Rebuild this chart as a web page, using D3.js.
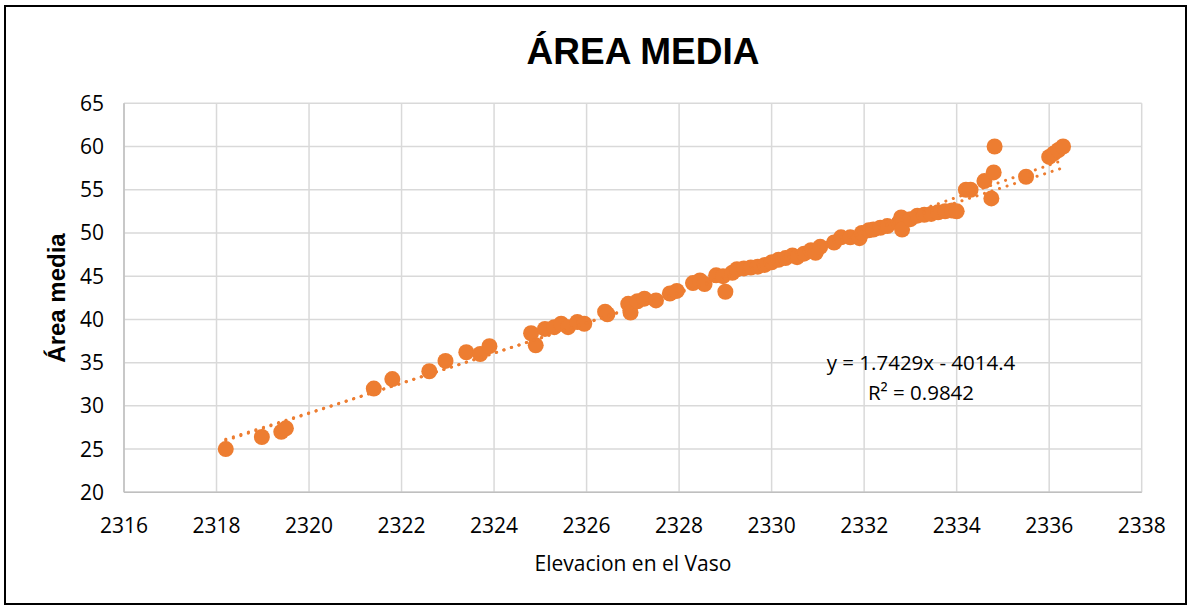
<!DOCTYPE html>
<meta charset="utf-8">
<head>
<style>
body { margin: 0; background: #fff; }
text { font-family: "Open Sans", "Liberation Sans", sans-serif; fill: #000; }
.grid line { stroke: #d9d9d9; stroke-width: 1.5px; }
.tick-label { font-size: 21px; }
</style>
<script src="https://d3js.org/d3.v7.min.js"></script>
</head>
<body>
<svg width="1190" height="607"></svg>
<script>

// elevation (x) and mean area (y)
var elevacion = [2318.2, 2318.98, 2319.4, 2319.5, 2321.4, 2321.8, 2322.6, 2322.95, 2323.4, 2323.7,
  2323.9, 2324.8, 2324.9, 2325.1, 2325.3, 2325.45, 2325.6, 2325.8, 2325.95, 2326.4,
  2326.45, 2326.9, 2326.95, 2327.1, 2327.25, 2327.5, 2327.8, 2327.95, 2328.3, 2328.45,
  2328.55, 2328.8, 2328.95, 2329.0, 2329.15, 2329.25, 2329.4, 2329.55, 2329.7, 2329.85,
  2330.0, 2330.15, 2330.3, 2330.45, 2330.55, 2330.7, 2330.85, 2330.95, 2331.05, 2331.35,
  2331.5, 2331.7, 2331.9, 2331.95, 2332.1, 2332.2, 2332.35, 2332.5, 2332.75, 2332.8,
  2332.82, 2333.0, 2333.15, 2333.3, 2333.45, 2333.6, 2333.75, 2333.9, 2334.0, 2334.2,
  2334.3, 2334.6, 2334.75, 2334.8, 2334.82, 2335.5, 2336.0, 2336.1, 2336.2, 2336.3];

var areaMedia = [25.0, 26.4, 27.0, 27.4, 32.0, 33.1, 34.0, 35.2, 36.2, 36.0,
  36.9, 38.4, 37.0, 38.9, 39.1, 39.5, 39.1, 39.7, 39.5, 40.9,
  40.6, 41.8, 40.8, 42.1, 42.4, 42.2, 43.0, 43.3, 44.2, 44.5,
  44.1, 45.1, 45.0, 43.2, 45.4, 45.8, 45.9, 46.0, 46.1, 46.3,
  46.6, 46.9, 47.1, 47.4, 47.2, 47.6, 48.0, 47.7, 48.4, 48.9,
  49.5, 49.5, 49.4, 50.0, 50.3, 50.4, 50.6, 50.8, 51.2, 51.8,
  50.4, 51.6, 52.0, 52.1, 52.2, 52.4, 52.5, 52.6, 52.5, 55.0,
  55.0, 56.0, 54.0, 57.0, 60.0, 56.5, 58.8, 59.2, 59.6, 60.0];

var xTicks = [2316, 2318, 2320, 2322, 2324, 2326, 2328, 2330, 2332, 2334, 2336, 2338];
var yTicks = [20, 25, 30, 35, 40, 45, 50, 55, 60, 65];

// linear trendline shown on the chart: y = slope*x + intercept
var trendLinear = [1.7429, -4014.4];
var trendLabels = ["y = 1.7429x - 4014.4", "R² = 0.9842"];

var orange = "#ED7D31";

var svg = d3.select("svg");
var pLeft = 124, pTop = 103.3, pRight = 1141.7, pBottom = 492.3;

var x = d3.scaleLinear().domain([2316, 2338]).range([pLeft, pRight]);
var y = d3.scaleLinear().domain([20, 65]).range([pBottom, pTop]);

// outer frame
svg.append("rect")
  .attr("x", 5).attr("y", 6).attr("width", 1181).attr("height", 598)
  .attr("fill", "none").attr("stroke", "#000").attr("stroke-width", 2);

// grid
var grid = svg.append("g").attr("class", "grid");
grid.selectAll(".v").data(xTicks).enter().append("line")
  .attr("x1", function(d) { return x(d); }).attr("x2", function(d) { return x(d); })
  .attr("y1", pTop).attr("y2", pBottom);
grid.selectAll(".h").data(yTicks).enter().append("line")
  .attr("x1", pLeft).attr("x2", pRight)
  .attr("y1", function(d) { return y(d); }).attr("y2", function(d) { return y(d); });

// axis lines
svg.append("line").attr("x1", pLeft).attr("x2", pLeft).attr("y1", pTop).attr("y2", pBottom)
  .attr("stroke", "#bfbfbf").attr("stroke-width", 1.5);
svg.append("line").attr("x1", pLeft).attr("x2", pRight).attr("y1", pBottom).attr("y2", pBottom)
  .attr("stroke", "#bfbfbf").attr("stroke-width", 1.5);

// tick labels
svg.selectAll(".xl").data(xTicks).enter().append("text")
  .attr("class", "tick-label")
  .attr("x", function(d) { return x(d); })
  .attr("y", 533)
  .attr("text-anchor", "middle")
  .text(function(d) { return d; });

svg.selectAll(".yl").data(yTicks).enter().append("text")
  .attr("class", "tick-label")
  .attr("x", 104)
  .attr("y", function(d) { return y(d) + 7.5; })
  .attr("text-anchor", "end")
  .text(function(d) { return d; });

// titles
svg.append("text").attr("x", 643).attr("y", 64)
  .attr("text-anchor", "middle")
  .style("font-family", "'Liberation Sans', sans-serif")
  .style("font-size", "37px").style("font-weight", "bold")
  .text("ÁREA MEDIA");

svg.append("text").attr("x", 633).attr("y", 571)
  .attr("text-anchor", "middle")
  .style("font-size", "21px")
  .text("Elevacion en el Vaso");

svg.append("text")
  .attr("transform", "translate(65,298) rotate(-90)")
  .attr("text-anchor", "middle")
  .style("font-family", "'Liberation Sans', sans-serif")
  .style("font-size", "24px").style("font-weight", "bold")
  .text("Área media");

// points
var pts = elevacion.map(function(d, i) { return [d, areaMedia[i]]; });
svg.append("g").selectAll("circle").data(pts).enter().append("circle")
  .attr("cx", function(d) { return x(d[0]); })
  .attr("cy", function(d) { return y(d[1]); })
  .attr("r", 8)
  .attr("fill", orange);

// second trendline: quadratic least squares fit of the points
function quadFit(xs, ys) {
  var m = d3.mean(xs);
  var s = [0, 0, 0, 0, 0], t = [0, 0, 0];
  xs.forEach(function(xv, i) {
    var u = xv - m, p = 1;
    for (var k = 0; k < 5; k++) { s[k] += p; if (k < 3) t[k] += p * ys[i]; p *= u; }
  });
  var A = [[s[0], s[1], s[2], t[0]], [s[1], s[2], s[3], t[1]], [s[2], s[3], s[4], t[2]]];
  for (var c = 0; c < 3; c++) {
    for (var r = c + 1; r < 3; r++) {
      var f = A[r][c] / A[c][c];
      for (var k = c; k < 4; k++) A[r][k] -= f * A[c][k];
    }
  }
  var b = [0, 0, 0];
  for (var r = 2; r >= 0; r--) {
    var v = A[r][3];
    for (var k = r + 1; k < 3; k++) v -= A[r][k] * b[k];
    b[r] = v / A[r][r];
  }
  return function(xv) { var u = xv - m; return b[0] + b[1] * u + b[2] * u * u; };
}
var quad = quadFit(elevacion, areaMedia);

var xMin = d3.min(elevacion), xMax = d3.max(elevacion);
var samples = d3.range(0, 101).map(function(i) { return xMin + (xMax - xMin) * i / 100; });

var line = d3.line()
  .x(function(d) { return x(d[0]); })
  .y(function(d) { return y(d[1]); });

svg.append("path")
  .datum(samples.map(function(v) { return [v, quad(v)]; }))
  .attr("d", line)
  .attr("fill", "none").attr("stroke", orange).attr("stroke-width", 3)
  .attr("stroke-linecap", "round").attr("stroke-dasharray", "0.1 7.8");

svg.append("path")
  .datum([[xMin, trendLinear[0] * xMin + trendLinear[1]], [xMax, trendLinear[0] * xMax + trendLinear[1]]])
  .attr("d", line)
  .attr("fill", "none").attr("stroke", orange).attr("stroke-width", 3)
  .attr("stroke-linecap", "round").attr("stroke-dasharray", "0.1 7.8");

// equation label
svg.selectAll(".eq").data(trendLabels).enter().append("text")
  .attr("x", 921)
  .attr("y", function(d, i) { return 370 + i * 30; })
  .attr("text-anchor", "middle")
  .style("font-size", "20.5px")
  .text(function(d) { return d; });

</script>
</body>
